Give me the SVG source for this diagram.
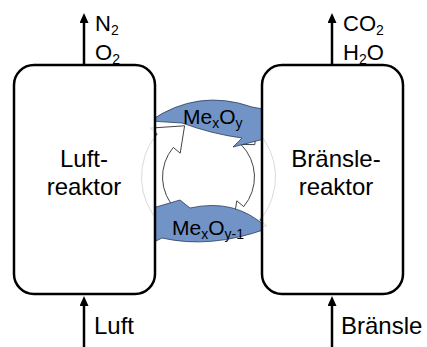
<svg xmlns="http://www.w3.org/2000/svg" width="427" height="347" viewBox="0 0 427 347">
<style>
.boxfill{fill:#fff;fill-opacity:0.8;stroke:none}
.box{fill:none;stroke:#000;stroke-width:2.5}
.flow{stroke:#000;stroke-width:2.5;fill:none}
.blue{fill:#7193c6;stroke:#2a3d5c;stroke-width:0.8}
.ring{fill:#fff;stroke:#444;stroke-width:1}
text{font-family:"Liberation Sans",Arial,sans-serif;fill:#000}
.lbl{font-size:22px}
.me{font-size:21px}
.big{font-size:24px}
.sub{font-size:14px}
</style>
<defs>
<marker id="ah" markerUnits="userSpaceOnUse" markerWidth="10" markerHeight="9" viewBox="0 0 10 9" refX="3" refY="4.5" orient="auto">
<path d="M0,0 L10,4.5 L0,9 Z" fill="#000"/>
</marker>
<clipPath id="gap"><rect x="155" y="0" width="107" height="347"/></clipPath>
</defs>
<rect width="427" height="347" fill="#fff"/>
<g id="cycle">
<path id="ringA" class="ring" d="M161.1,224.4 A67,67 0 0 1 157.2,133.9 L150.3,128.1 L184.6,125.8 L180.2,153.2 L173.3,147.4 A46,46 0 0 0 176.0,209.5 L162.2,209.4 Z"/>
<path id="ringB" class="ring" transform="rotate(180 208.5 177)" d="M161.1,224.4 A67,67 0 0 1 157.2,133.9 L150.3,128.1 L184.6,125.8 L180.2,153.2 L173.3,147.4 A46,46 0 0 0 176.0,209.5 L162.2,209.4 Z"/>
</g>
<g id="luftreaktor-bg"><rect class="boxfill" x="14" y="65" width="141" height="229" rx="20"/></g>
<g id="bransle-bg"><rect class="boxfill" x="262" y="65" width="141" height="229" rx="20"/></g>
<g id="oxid" clip-path="url(#gap)">
<path class="blue" d="M150,121 Q198,88 252,107 L263,109 L272,137 L233,147 L242,138 Q212,134 182,123 Z"/>
<text class="me" x="183" y="124">Me<tspan class="sub" dy="4">x</tspan><tspan dy="-4">O</tspan><tspan class="sub" dy="4">y</tspan></text>
</g>
<g id="red" clip-path="url(#gap)">
<path class="blue" d="M266,227 Q235,198 190,208 L180,200 L146,210 L152,243 L162,238 Q210,249 266,229 Z"/>
<text class="me" x="172" y="235">Me<tspan class="sub" dy="4">x</tspan><tspan dy="-4">O</tspan><tspan class="sub" dy="4">y-1</tspan></text>
</g>
<g id="luftreaktor">
<rect class="box" x="14" y="65" width="141" height="229" rx="20"/>
<text class="big" text-anchor="middle" x="84" y="167">Luft-</text>
<text class="big" text-anchor="middle" x="84" y="195">reaktor</text>
</g>
<g id="branslereaktor">
<rect class="box" x="262" y="65" width="141" height="229" rx="20"/>
<text class="big" text-anchor="middle" x="336" y="167">Bränsle-</text>
<text class="big" text-anchor="middle" x="336" y="195">reaktor</text>
</g>
<g id="connectors">
<line class="flow" x1="84" y1="65" x2="84" y2="20" marker-end="url(#ah)"/>
<line class="flow" x1="332" y1="65" x2="332" y2="20" marker-end="url(#ah)"/>
<line class="flow" x1="84" y1="347" x2="84" y2="303" marker-end="url(#ah)"/>
<line class="flow" x1="332" y1="347" x2="332" y2="303" marker-end="url(#ah)"/>
</g>
<g id="labels">
<text class="lbl" x="95" y="31">N<tspan class="sub" dy="4">2</tspan></text>
<text class="lbl" x="95" y="60">O<tspan class="sub" dy="4">2</tspan></text>
<text class="lbl" x="343" y="31">CO<tspan class="sub" dy="4">2</tspan></text>
<text class="lbl" x="343" y="60">H<tspan class="sub" dy="4">2</tspan><tspan dy="-4">O</tspan></text>
<text class="lbl" x="94" y="334" style="font-size:24px">Luft</text>
<text class="lbl" x="341" y="334" style="font-size:24px">Bränsle</text>
</g>
</svg>
